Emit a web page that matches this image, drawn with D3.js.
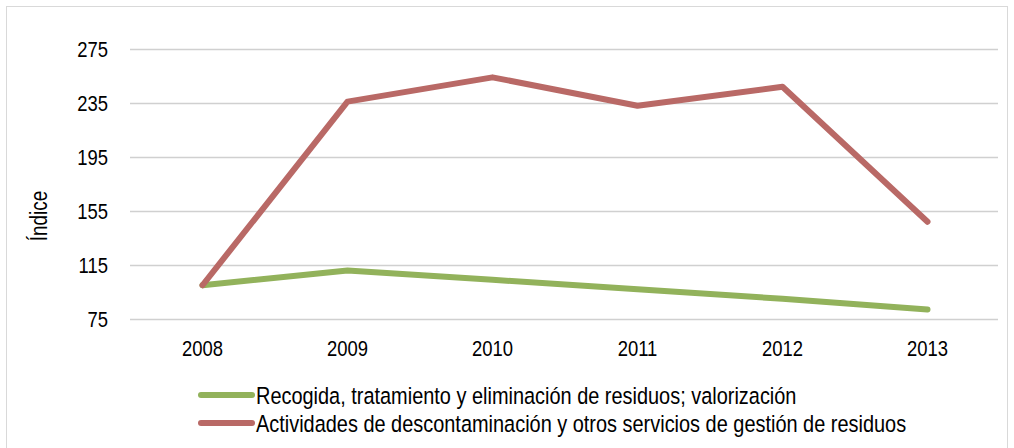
<!DOCTYPE html>
<html>
<head>
<meta charset="utf-8">
<style>
  body { margin: 0; background: #fff; }
  text { font-family: "Liberation Sans", Arial, sans-serif; fill: #000; }
</style>
</head>
<body>
<svg width="1014" height="448"></svg>
<script src="https://cdn.jsdelivr.net/npm/d3@7"></script>
<script>

const years = ["2008", "2009", "2010", "2011", "2012", "2013"];
const recogida = [100, 111, 104, 97, 90, 82];
const descontaminacion = [100, 236, 254, 233, 247, 147];
const yTicks = [75, 115, 155, 195, 235, 275];

const seriesNames = [
  "Recogida, tratamiento y eliminación de residuos; valorización",
  "Actividades de descontaminación y otros servicios de gestión de residuos"
];
const colors = ["#92b25b", "#b96966"];

// narrow look: Arial Narrow isn't installed, so squeeze Liberation Sans
const squeeze = 0.82;

const svg = d3.select("svg");

// outer frame
svg.append("rect")
  .attr("x", 6.5).attr("y", 6.5)
  .attr("width", 1001).attr("height", 445)
  .attr("fill", "none")
  .attr("stroke", "#d9d9d9");

const x = d3.scalePoint()
  .domain(years)
  .range([130, 1000])
  .padding(0.5);

const y = d3.scaleLinear()
  .domain([75, 275])
  .range([319, 49]);

// gridlines
svg.append("g")
  .selectAll("line")
  .data(yTicks)
  .enter()
  .append("line")
  .attr("x1", 130).attr("x2", 998)
  .attr("y1", d => Math.round(y(d)) + 0.5)
  .attr("y2", d => Math.round(y(d)) + 0.5)
  .attr("stroke", "#d0d0d0")
  .attr("stroke-width", 1.5);

// y tick labels
svg.append("g")
  .selectAll("text")
  .data(yTicks)
  .enter()
  .append("text")
  .attr("transform", d => "translate(108," + (y(d) + 7.5) + ") scale(" + squeeze + ",1)")
  .attr("text-anchor", "end")
  .style("font-size", "22.5px")
  .text(d => d);

// x tick labels
svg.append("g")
  .selectAll("text")
  .data(years)
  .enter()
  .append("text")
  .attr("transform", d => "translate(" + x(d) + ",356) scale(" + squeeze + ",1)")
  .attr("text-anchor", "middle")
  .style("font-size", "22.5px")
  .text(d => d);

// axis title
svg.append("text")
  .attr("transform", "translate(47,216) rotate(-90) scale(" + squeeze + ",1)")
  .attr("text-anchor", "middle")
  .style("font-size", "23px")
  .text("Índice");

const line = d3.line()
  .x((d, i) => x(years[i]))
  .y(d => y(d));

[recogida, descontaminacion].forEach(function(vals, i) {
  svg.append("path")
    .datum(vals)
    .attr("d", line)
    .attr("fill", "none")
    .attr("stroke", colors[i])
    .attr("stroke-width", 6)
    .attr("stroke-linejoin", "round")
    .attr("stroke-linecap", "round");
});

// legend
const legend = svg.append("g")
  .selectAll("g")
  .data(seriesNames)
  .enter()
  .append("g")
  .attr("transform", (d, i) => "translate(0," + (395 + i * 28) + ")");

legend.append("line")
  .attr("x1", 201).attr("x2", 252)
  .attr("y1", 0).attr("y2", 0)
  .attr("stroke", (d, i) => colors[i])
  .attr("stroke-width", 6)
  .attr("stroke-linecap", "round");

legend.append("text")
  .attr("transform", "translate(256,9) scale(0.82,1)")
  .style("font-size", "24.3px")
  .text(d => d);

</script>
</body>
</html>
